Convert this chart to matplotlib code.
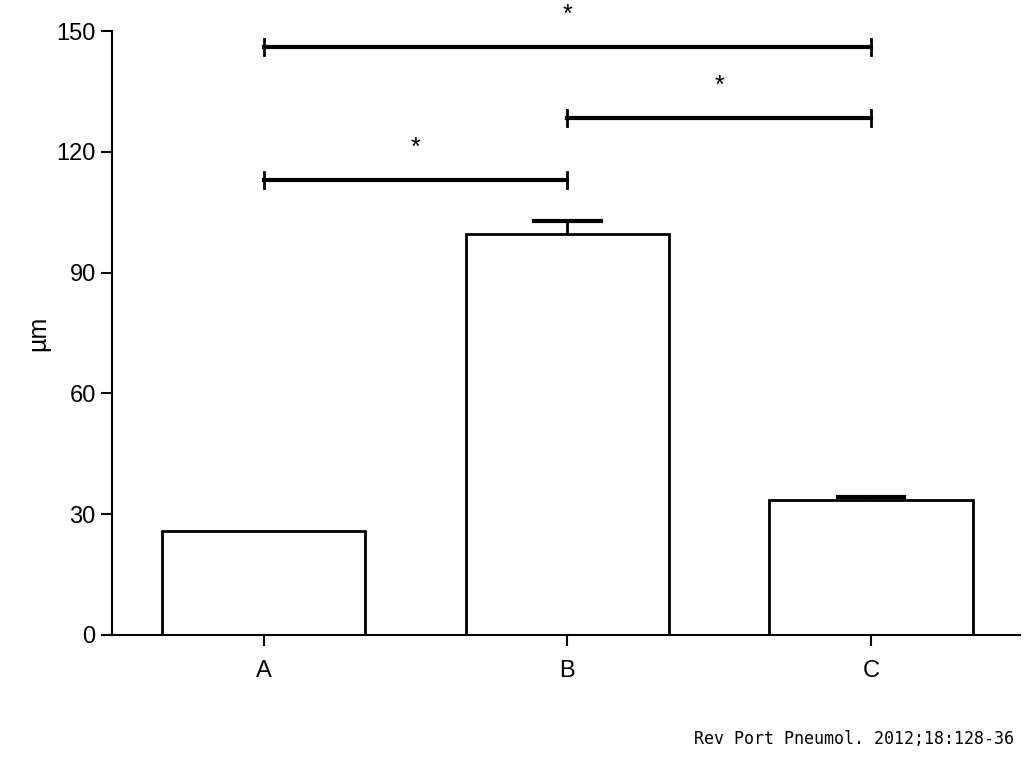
import matplotlib.pyplot as plt

groups = ['A', 'B', 'C']
means = [25.8, 99.6, 33.5]
errs = [0.0, 3.2, 0.8]
# significance brackets: (left group, right group, height)
brackets = [(0, 1, 113), (1, 2, 128.4), (0, 2, 146)]

plt.rcParams['font.family'] = 'Liberation Sans'
fig = plt.figure(figsize=(10.24, 7.63), dpi=100)
ax = fig.add_axes([0.109, 0.168, 0.887, 0.791])

x = range(len(groups))
ax.bar(x, means, width=0.67, color='white', edgecolor='black', linewidth=2, zorder=2)
# upper error bars only
for i, (m, e) in enumerate(zip(means, errs)):
    if e > 0:
        ax.plot([i, i], [m, m + e], color='black', lw=2, zorder=1)
        ax.plot([i - 0.11, i + 0.11], [m + e, m + e], color='black', lw=3, zorder=3)

for a, b, h in brackets:
    ax.plot([a, b], [h, h], color='black', lw=3)
    ax.plot([a, a], [h - 2, h + 2], color='black', lw=2)
    ax.plot([b, b], [h - 2, h + 2], color='black', lw=2)
    ax.text((a + b) / 2, h + 8, '*', ha='center', va='center', fontsize=18, clip_on=False)

ax.set_xlim(-0.5, 2.49)
ax.set_ylim(0, 150)
ax.set_yticks([0, 30, 60, 90, 120, 150])
ax.set_xticks(list(x))
ax.set_xticklabels(groups)
ax.set_ylabel('µm', fontsize=18)
ax.tick_params(labelsize=17, width=1.5, length=8, direction='out')
ax.tick_params(axis='x', pad=10)
for s in ['top', 'right']:
    ax.spines[s].set_visible(False)
for s in ['left', 'bottom']:
    ax.spines[s].set_linewidth(1.5)

fig.text(0.99, 0.025, 'Rev Port Pneumol. 2012;18:128-36', ha='right', fontsize=12,
         family='DejaVu Sans Mono')

plt.savefig('out.png', dpi=100)
